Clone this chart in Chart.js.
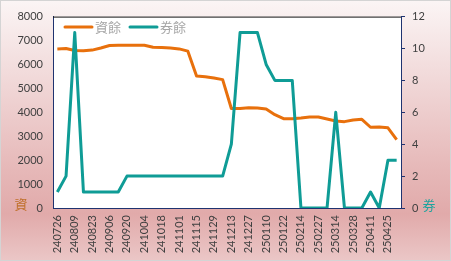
<!DOCTYPE html>
<html>
<head>
<meta charset="utf-8">
<script src="https://cdn.jsdelivr.net/npm/chart.js@4.4.1/dist/chart.umd.min.js"></script>
<style>
  html, body { margin: 0; padding: 0; }
  #wrap {
    position: relative;
    width: 451px;
    height: 261px;
    background: linear-gradient(to bottom, #fbf5f5 0%, #f1d9d9 30%, #e6b8b8 65%, #e1aaaa 82%, #ebc7c7 100%);
    box-shadow: inset 0 0 0 1px #d4d4d4;
  }
  canvas { display: block; }
</style>
</head>
<body>
<div id="wrap"><canvas id="c" width="451" height="261"></canvas></div>
<script>
// 日期（每週）
const dates = [
  '240726','240802','240809','240816','240823','240830','240906','240913','240920','240927',
  '241004','241011','241018','241025','241101','241108','241115','241122','241129','241206',
  '241213','241220','241227','250103','250110','250117','250122','250207','250214','250221',
  '250227','250307','250314','250321','250328','250403','250411','250418','250425','250502'
];

// 資餘（左軸）
const ziYu = [
  6650, 6670, 6585, 6570, 6600, 6690, 6790, 6805, 6805, 6805,
  6805, 6720, 6710, 6690, 6650, 6555, 5520, 5490, 5435, 5365,
  4160, 4160, 4190, 4175, 4135, 3900, 3735, 3735, 3760, 3800,
  3800, 3720, 3640, 3610, 3680, 3705, 3375, 3390, 3350, 2860
];

// 券餘（右軸）
const quanYu = [
  1, 2, 11, 1, 1, 1, 1, 1, 2, 2,
  2, 2, 2, 2, 2, 2, 2, 2, 2, 2,
  4, 11, 11, 11, 9, 8, 8, 8, 0, 0,
  0, 0, 6, 0, 0, 0, 1, 0, 3, 3
];

const ORANGE = '#E8700C';
const TEAL = '#0F9C96';
const NAVY = '#1F3370';
const TXT = '#404040';
const FONT = 'Lato, "Liberation Sans", sans-serif';
const CJK = '"Noto Sans CJK TC", "Noto Sans CJK SC", sans-serif';

// 繪圖區白底、上框線、圖例和軸旁的字
const decor = {
  id: 'decor',
  beforeDraw(chart) {
    const { ctx, chartArea: a } = chart;
    ctx.save();
    ctx.fillStyle = '#ffffff';
    ctx.fillRect(a.left, a.top, a.right - a.left, a.bottom - a.top);
    ctx.restore();
  },
  afterDraw(chart) {
    const { ctx, chartArea: a } = chart;
    ctx.save();
    ctx.strokeStyle = '#111111';
    ctx.lineWidth = 1;
    ctx.beginPath();
    ctx.moveTo(a.left, a.top + 0.5);
    ctx.lineTo(a.right, a.top + 0.5);
    ctx.stroke();

    // 圖例
    const items = [
      { x: 65, text: '資餘', color: ORANGE },
      { x: 130, text: '券餘', color: TEAL }
    ];
    const ly = 27;
    ctx.lineWidth = 3;
    ctx.lineCap = 'round';
    ctx.font = '13px ' + CJK;
    ctx.textBaseline = 'middle';
    items.forEach(it => {
      ctx.strokeStyle = it.color;
      ctx.beginPath();
      ctx.moveTo(it.x, ly);
      ctx.lineTo(it.x + 27, ly);
      ctx.stroke();
      ctx.fillStyle = '#a6a6a6';
      ctx.fillText(it.text, it.x + 30, ly);
    });

    // 軸旁標示
    ctx.font = '13px ' + CJK;
    ctx.textAlign = 'center';
    ctx.fillStyle = '#C0702C';
    ctx.fillText('資', 21, 204);
    ctx.fillStyle = '#1FA39D';
    ctx.fillText('券', 429, 205);
    ctx.restore();
  }
};

new Chart(document.getElementById('c'), {
  type: 'line',
  data: {
    labels: dates,
    datasets: [
      {
        label: '資餘',
        data: ziYu,
        yAxisID: 'y',
        borderColor: ORANGE,
        backgroundColor: ORANGE,
        borderWidth: 3,
        pointRadius: 0,
        tension: 0,
        borderJoinStyle: 'round',
        order: 2
      },
      {
        label: '券餘',
        data: quanYu,
        yAxisID: 'y1',
        borderColor: TEAL,
        backgroundColor: TEAL,
        borderWidth: 3,
        pointRadius: 0,
        tension: 0,
        borderJoinStyle: 'round',
        order: 1
      }
    ]
  },
  options: {
    responsive: false,
    animation: false,
    layout: { padding: { top: 15, left: 0, right: 0, bottom: 0 } },
    plugins: {
      legend: { display: false },
      tooltip: { enabled: false }
    },
    scales: {
      x: {
        offset: true,
        grid: { display: false, drawTicks: false },
        border: { display: true, color: NAVY, width: 1 },
        ticks: {
          autoSkip: false,
          minRotation: 90,
          maxRotation: 90,
          padding: 7,
          color: TXT,
          font: { family: FONT, size: 11 },
          callback: function (v, i) { return i % 2 === 0 ? this.getLabelForValue(v) : ''; }
        },
        afterFit: s => { s.height = 53; }
      },
      y: {
        position: 'left',
        min: 0,
        max: 8000,
        grid: { display: false, drawTicks: false },
        border: { display: true, color: NAVY, width: 1 },
        ticks: {
          stepSize: 1000,
          padding: 10,
          color: TXT,
          font: { family: FONT, size: 11 },
          callback: v => String(v)
        },
        afterFit: s => { s.width = 53; }
      },
      y1: {
        position: 'right',
        min: 0,
        max: 12,
        grid: { display: true, drawOnChartArea: false, drawTicks: true, tickLength: 4, color: NAVY },
        border: { display: true, color: NAVY, width: 1 },
        ticks: {
          stepSize: 2,
          padding: 7,
          color: TXT,
          font: { family: FONT, size: 11 }
        },
        afterFit: s => { s.width = 50; }
      }
    }
  },
  plugins: [decor]
});
</script>
</body>
</html>
